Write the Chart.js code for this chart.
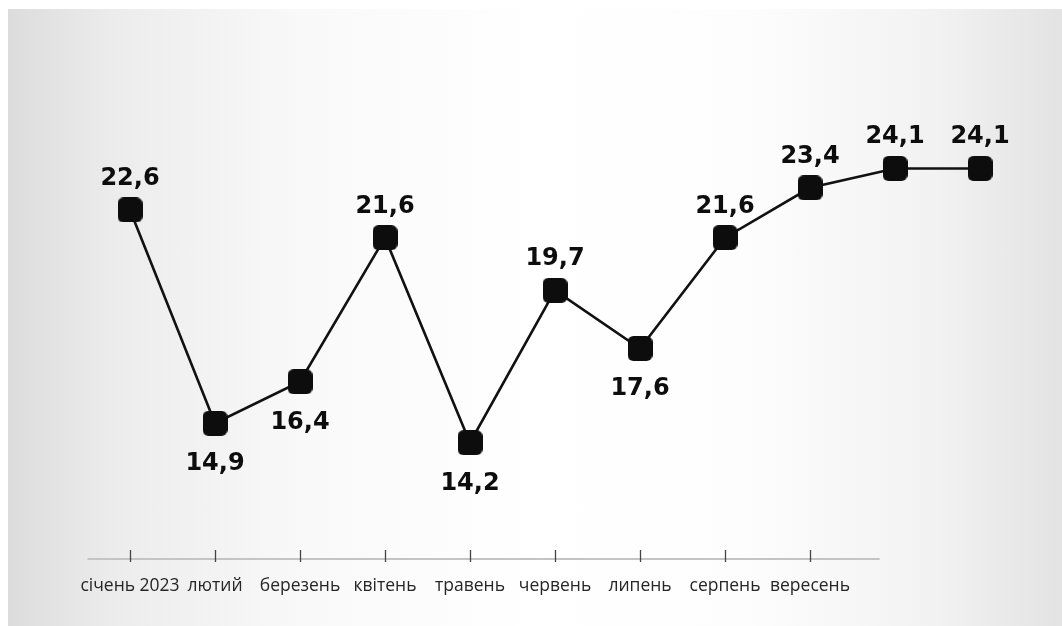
<!DOCTYPE html>
<html lang="uk">
<head>
<meta charset="utf-8">
<script src="https://cdn.jsdelivr.net/npm/chart.js@4.4.1/dist/chart.umd.min.js"></script>
<style>
    html, body { margin: 0; padding: 0; background: #fff; }
    #wrap { position: relative; width: 1062px; height: 626px; overflow: hidden; }
    #bg {
        position: absolute; left: 8px; top: 9px; right: 0; bottom: 0;
        background: linear-gradient(to right, #dcdcdc 0%, #ececec 10%, #f9f9f9 28%, #ffffff 50%, #fdfdfd 70%, #f2f2f2 88%, #e3e3e3 100%);
    }
    canvas { position: absolute; left: 0; top: 0; }
</style>
</head>
<body>
<div id="wrap">
    <div id="bg"></div>
    <canvas id="lineChart" width="1062" height="626"></canvas>
</div>
<script>
// data
const months = ['січень 2023', 'лютий', 'березень', 'квітень', 'травень', 'червень', 'липень', 'серпень', 'вересень'];
const values = [22.6, 14.9, 16.4, 21.6, 14.2, 19.7, 17.6, 21.6, 23.4, 24.1, 24.1];
// last two points have no month caption
const xLabels = values.map((v, i) => months[i] || '');
// where each value caption sits relative to its point
const labelSide = ['up', 'down', 'down', 'up', 'down', 'up', 'down', 'up', 'up', 'up', 'up'];

const formatValue = (v) => v.toFixed(1).replace('.', ',');

// rounded square marker
function makeMarker(size, radius, color) {
    const c = document.createElement('canvas');
    c.width = size; c.height = size;
    const g = c.getContext('2d');
    g.fillStyle = color;
    g.beginPath();
    g.roundRect(0, 0, size, size, radius);
    g.fill();
    return c;
}
const marker = makeMarker(25, 6, '#0d0d0d');

// axis line + tick marks only under the labelled months
const axisPlugin = {
    id: 'axisPlugin',
    beforeDatasetsDraw(chart) {
        const { ctx, chartArea, scales: { x } } = chart;
        const step = x.getPixelForValue(1) - x.getPixelForValue(0);
        const y = chartArea.bottom;
        ctx.save();
        ctx.strokeStyle = '#c4c4c4';
        ctx.lineWidth = 2;
        ctx.beginPath();
        ctx.moveTo(x.getPixelForValue(0) - step * 0.5, y);
        ctx.lineTo(x.getPixelForValue(months.length - 1) + step * 0.82, y);
        ctx.stroke();
        ctx.strokeStyle = '#444';
        ctx.lineWidth = 1.3;
        months.forEach((m, i) => {
            const px = Math.round(x.getPixelForValue(i)) + 0.5;
            ctx.beginPath();
            ctx.moveTo(px, y - 9);
            ctx.lineTo(px, y + 3);
            ctx.stroke();
        });
        ctx.restore();
    }
};

// value captions
const valueLabels = {
    id: 'valueLabels',
    afterDatasetsDraw(chart) {
        const { ctx } = chart;
        const meta = chart.getDatasetMeta(0);
        ctx.save();
        ctx.font = 'bold 24px "DejaVu Sans"';
        ctx.fillStyle = '#0d0d0d';
        ctx.textAlign = 'center';
        ctx.textBaseline = 'alphabetic';
        meta.data.forEach((pt, i) => {
            const dy = labelSide[i] === 'up' ? -25 : 47;
            ctx.fillText(formatValue(values[i]), pt.x, pt.y + dy);
        });
        ctx.restore();
    }
};

const ctx = document.getElementById('lineChart').getContext('2d');
new Chart(ctx, {
    type: 'line',
    data: {
        labels: xLabels,
        datasets: [{
            data: values,
            borderColor: '#111',
            borderWidth: 2.6,
            tension: 0,
            pointStyle: marker,
            pointRadius: 12,
            clip: false
        }]
    },
    options: {
        responsive: false,
        animation: false,
        layout: { autoPadding: false, padding: { left: 130, right: 82, top: 5, bottom: 12 } },
        plugins: {
            legend: { display: false },
            tooltip: { enabled: false }
        },
        scales: {
            x: {
                offset: false,
                border: { display: false },
                grid: { display: false, drawTicks: false },
                ticks: {
                    autoSkip: false,
                    maxRotation: 0,
                    padding: 17,
                    color: '#262626',
                    font: { family: '"Open Sans"', size: 17.5 }
                }
            },
            y: {
                display: false,
                min: 10,
                max: 30
            }
        }
    },
    plugins: [axisPlugin, valueLabels]
});
</script>
</body>
</html>
